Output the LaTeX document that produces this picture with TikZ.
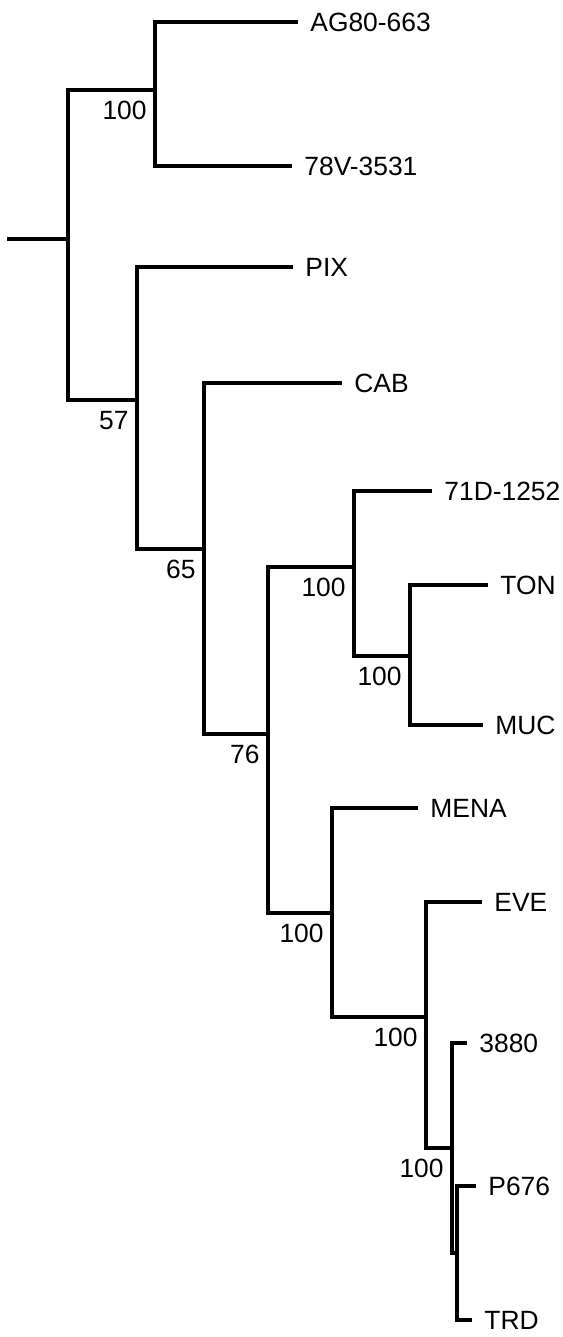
\documentclass[tikz,border=0pt]{standalone}
\usepackage{fontspec}
\setmainfont{Liberation Sans}
\usetikzlibrary{positioning}

\begin{document}
\begin{tikzpicture}[x=0.5pt,y=-0.5pt,
    every node/.style={font=\fontsize{13.2pt}{15pt}\selectfont},
    branch/.style={line width=1.6pt},
    taxon/.style={anchor=west,inner ysep=0pt,inner xsep=6pt,text depth=0pt},
    support/.style={anchor=north east,inner sep=0pt,xshift=-4pt,yshift=-5.5pt}]
  \useasboundingbox (0,0) rectangle (562,1337);
  % internal nodes (x of the vertical, y where the parent enters)
  \coordinate (stem) at (7,239);
  \coordinate (root) at (68,239);
  \coordinate (nB) at (155,90);
  \coordinate (nC) at (137,400);
  \coordinate (nD) at (204,549);
  \coordinate (nE) at (268,734);
  \coordinate (nK) at (354,567);
  \coordinate (nT) at (410,656);
  \coordinate (nF) at (332,913);
  \coordinate (nG) at (426,1017);
  \coordinate (nH) at (452,1148);
  \coordinate (nI) at (457,1253);
  % taxa
  \node[taxon] (ag) at (298,22) {AG80-663};
  \node[taxon] (v78) at (292,166) {78V-3531};
  \node[taxon] (pix) at (293,267) {PIX};
  \node[taxon] (cab) at (342,383) {CAB};
  \node[taxon] (d71) at (432,491) {71D-1252};
  \node[taxon] (ton) at (488,585) {TON};
  \node[taxon] (muc) at (483,725) {MUC};
  \node[taxon] (mena) at (418,808) {MENA};
  \node[taxon] (eve) at (482,902) {EVE};
  \node[taxon] (t3880) at (467,1043) {3880};
  \node[taxon] (p676) at (476,1186) {P676};
  \node[taxon] (trd) at (472,1320) {TRD};
  % branches
  \draw[branch] (stem) -- (root);
  \draw[branch] (root) |- (nB);
  \draw[branch] (root) |- (nC);
  \draw[branch] (nB) |- (ag.west);
  \draw[branch] (nB) |- (v78.west);
  \draw[branch] (nC) |- (pix.west);
  \draw[branch] (nC) |- (nD);
  \draw[branch] (nD) |- (cab.west);
  \draw[branch] (nD) |- (nE);
  \draw[branch] (nE) |- (nK);
  \draw[branch] (nE) |- (nF);
  \draw[branch] (nK) |- (d71.west);
  \draw[branch] (nK) |- (nT);
  \draw[branch] (nT) |- (ton.west);
  \draw[branch] (nT) |- (muc.west);
  \draw[branch] (nF) |- (mena.west);
  \draw[branch] (nF) |- (nG);
  \draw[branch] (nG) |- (eve.west);
  \draw[branch] (nG) |- (nH);
  \draw[branch] (nH) |- (t3880.west);
  \draw[branch] (nH) |- (nI);
  \draw[branch] (nI) |- (p676.west);
  \draw[branch] (nI) |- (trd.west);
  % bootstrap values
  \node[support] (sB) at (nB) {100};
  \node[support] (sC) at (nC) {57};
  \node[support] (sD) at (nD) {65};
  \node[support] (sE) at (nE) {76};
  \node[support] (sK) at (nK) {100};
  \node[support] (sT) at (nT) {100};
  \node[support] (sF) at (nF) {100};
  \node[support] (sG) at (nG) {100};
  \node[support] (sH) at (nH) {100};
\end{tikzpicture}
\end{document}
